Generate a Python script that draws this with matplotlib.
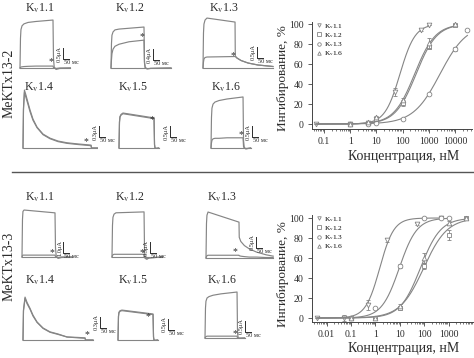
import numpy as np
import matplotlib.pyplot as plt
from matplotlib.lines import Line2D
from matplotlib.ticker import LogLocator, FixedLocator, FixedFormatter, NullFormatter

plt.rcParams['font.family'] = 'serif'
plt.rcParams['font.serif'] = ['Liberation Serif', 'DejaVu Serif']
plt.rcParams['mathtext.fontset'] = 'stix'

# ── dose-response data, MeKTx13-2 (conc nM, inhibition %, error) ─────────────
c2_kv11 = [0.05, 1, 5, 10, 50, 500, 1000]
i2_kv11 = [0, 0, 1, 5, 32, 94, 99]
e2_kv11 = [0, 0, 0, 2, 4, 1, 0]
c2_kv12 = [1, 5, 10, 100, 1000, 10000]
i2_kv12 = [0, 1, 4, 21, 77, 99]
e2_kv12 = [0, 0, 0, 3, 2, 1]
c2_kv13 = [1, 5, 10, 100, 1000, 10000, 30000]
i2_kv13 = [0, 0, 1, 5, 30, 75, 94]
e2_kv13 = [0, 0, 0, 1, 1, 2, 1]
c2_kv16 = [1, 5, 10, 100, 1000, 10000]
i2_kv16 = [0, 2, 7, 24, 81, 100]
e2_kv16 = [0, 0, 1, 2, 5, 0]
# Hill fit parameters (Kv1.1, Kv1.2, Kv1.3, Kv1.6)
ic50_2 = [80, 330, 2700, 290]
hill_2 = [1.5, 1.1, 0.85, 1.1]
fit_end_2 = [1000, 10000, 30000, 10000]

# ── dose-response data, MeKTx13-3 ─────────────────────────────────────────────
c3_kv11 = [0.004, 0.05, 0.5, 3, 50, 500]
i3_kv11 = [0, 0, 13, 78, 94, 100]
e3_kv11 = [0, 3, 5, 2, 1, 0]
c3_kv12 = [0.1, 1, 10, 100, 1000, 5000]
i3_kv12 = [0, 0, 10, 52, 83, 100]
e3_kv12 = [0, 0, 2, 3, 5, 2]
c3_kv13 = [0.1, 1, 10, 100, 500, 1000]
i3_kv13 = [0, 10, 52, 100, 100, 100]
e3_kv13 = [0, 1, 2, 0, 0, 0]
c3_kv16 = [0.1, 1, 10, 100, 1000, 5000]
i3_kv16 = [0, 0, 12, 60, 95, 100]
e3_kv16 = [0, 0, 2, 5, 2, 1]
ic50_3 = [1.5, 95, 9.5, 70]
hill_3 = [1.5, 0.9, 1.2, 1.05]
fit_end_3 = [500, 5000, 1000, 5000]

channels = ['K$_\\mathrm{v}$1.1', 'K$_\\mathrm{v}$1.2', 'K$_\\mathrm{v}$1.3', 'K$_\\mathrm{v}$1.6']
markers = ['v', 's', 'o', '^']

# ── current traces: time (ms), control and toxin current as fraction of peak ──
a1_t = [0, 4, 8, 17, 33, 67, 133, 275, 279, 285, 300, 330, 420]
a1_c = [0, .62, .8, .88, .92, .95, .97, 1.0, .2, .02, -.03, -.01, 0]
a1_x = [0, .01, .02, .025, .03, .035, .04, .04, .01, 0, -.01, 0, 0]
a2_t = [0, 4, 8, 17, 33, 67, 150, 275, 279, 285, 300, 330, 500]
a2_c = [0, .6, .8, .88, .93, .95, .97, 1.0, .15, .01, -.02, -.01, 0]
a2_x = [0, .2, .35, .46, .53, .58, .64, .68, .12, .01, -.02, -.01, 0]
a3_t = [0, 4, 8, 17, 33, 267, 269, 283, 317, 375, 458, 583]
a3_c = [0, .7, .88, .96, 1.0, .92, .24, .2, .15, .1, .06, .03]
a3_x = [0, .12, .18, .21, .22, .23, .23, .2, .15, .1, .06, .03]
a4_t = [0, 4, 12, 25, 42, 58, 83, 117, 167, 225, 292, 367, 458, 567, 571, 625]
a4_c = [0, .69, 1.0, .91, .78, .66, .5, .36, .24, .17, .12, .09, .07, .05, 0, 0]
a4_x = [0, .66, .96, .87, .75, .63, .48, .35, .23, .16, .11, .08, .06, .04, 0, 0]
a5_t = [0, 4, 8, 17, 33, 292, 296, 300, 310, 330]
a5_c = [0, .75, .9, .96, 1.0, .86, .1, 0, -.01, 0]
a5_x = [0, .73, .88, .94, .98, .84, .1, 0, -.01, 0]
a6_t = [0, 4, 8, 17, 33, 67, 133, 267, 271, 277, 290, 330]
a6_c = [0, .6, .78, .86, .9, .93, .96, 1.0, .15, .01, -.02, 0]
a6_x = [0, .1, .15, .18, .19, .19, .2, .2, .03, 0, -.01, 0]

b1_t = [0, 4, 8, 17, 275, 279, 285, 300, 330, 420]
b1_c = [0, .8, .97, 1.0, .94, .2, .02, -.03, -.01, 0]
b1_x = [0, .03, .04, .04, .04, .01, 0, -.01, 0, 0]
b2_t = [0, 4, 8, 17, 33, 267, 271, 277, 290, 310, 420]
b2_c = [0, .7, .88, .95, .98, 1.0, .15, -.03, -.05, -.02, 0]
b2_x = [0, .03, .05, .06, .06, .06, .01, -.03, -.04, -.02, 0]
b3_t = [0, 4, 8, 17, 275, 277, 290, 320, 360, 420, 500, 560]
b3_c = [0, .75, .93, 1.0, .78, .45, .36, .27, .2, .13, .07, .04]
b3_x = [0, .03, .05, .06, .06, .05, .04, .03, .02, .02, .01, .01]
b4_t = [0, 4, 17, 33, 58, 83, 117, 167, 225, 292, 367, 458, 517, 521, 583]
b4_c = [0, .7, 1, .88, .74, .58, .42, .28, .19, .14, .07, .06, .05, 0, 0]
b4_x = [0, .68, .97, .85, .72, .56, .41, .27, .18, .13, .07, .05, .04, 0, 0]
b5_t = [0, 4, 8, 17, 33, 292, 296, 300, 310, 330]
b5_c = [0, .8, .93, .98, 1.0, .87, .1, 0, -.01, 0]
b5_x = [0, .78, .91, .96, .98, .85, .1, 0, -.01, 0]
b6_t = [0, 4, 8, 17, 33, 67, 133, 267, 271, 277, 290, 330]
b6_c = [0, .65, .8, .87, .9, .93, .96, 1.0, .1, 0, -.01, 0]
b6_x = [0, .02, .03, .04, .04, .04, .04, .04, 0, 0, 0, 0]

peak_a = [2.18, 1.49, 2.27, 1.58, 1.59, 2.32]   # uA
peak_b = [4.27, 2.05, 2.09, 1.17, 1.36, 2.09]
scale_a = [0.5, 0.4, 0.5, 0.3, 0.5, 0.5]        # scale bar, uA
scale_b = [1.0, 0.5, 0.5, 0.3, 0.5, 0.5]
panel_names = ['K$_\\mathrm{v}$1.1', 'K$_\\mathrm{v}$1.2', 'K$_\\mathrm{v}$1.3',
               'K$_\\mathrm{v}$1.4', 'K$_\\mathrm{v}$1.5', 'K$_\\mathrm{v}$1.6']

GRAY = '#858585'
TXT = '#2b2b2b'
W, H = 474, 358
fig = plt.figure(figsize=(W / 100, H / 100), dpi=100)


def fx(x):
    return x / W


def fy(y):
    return 1 - y / H


MS_PX = 50 / 6.0
BAR_PX = 11


def trace_panel(x0, yb, t, ctrl, tox, peak, scale, star, bar):
    ua = scale / BAR_PX
    ax = fig.add_axes([fx(x0 - 3), fy(yb + 8), 78 / W, 70 / H])
    ax.set_xlim(-3 * MS_PX, 75 * MS_PX)
    ax.set_ylim(-8 * ua, 62 * ua)
    ax.axis('off')
    t = np.array(t)
    ax.plot([0, t[-1]], [0, 0], color=GRAY, lw=0.8)
    ax.plot(t, np.array(ctrl) * peak, color=GRAY, lw=0.85)
    ax.plot(t, np.array(tox) * peak, color=GRAY, lw=0.85)

    def d(px, py):
        return (px - x0) * MS_PX, (yb - py) * ua
    sx, sy = d(*star)
    ax.text(sx, sy, '*', ha='center', va='center', fontsize=7, color=TXT)
    bx, by = d(*bar)
    ax.plot([bx, bx, bx + 50], [by + scale, by, by], color=TXT, lw=0.7, clip_on=False)
    ax.text(bx - 0.8 * MS_PX, by + scale / 2, f'{scale:.1f}μA', rotation=90,
            ha='right', va='center', fontsize=4.6, color=TXT)
    ax.text(bx + 0.8 * MS_PX, by - 0.8 * ua, '50 мс', ha='left', va='top',
            fontsize=4.6, color=TXT)


# ── layout of trace panels (pixel positions) ─────────────────────────────────
traces_a = [(a1_t, a1_c, a1_x), (a2_t, a2_c, a2_x), (a3_t, a3_c, a3_x),
            (a4_t, a4_c, a4_x), (a5_t, a5_c, a5_x), (a6_t, a6_c, a6_x)]
traces_b = [(b1_t, b1_c, b1_x), (b2_t, b2_c, b2_x), (b3_t, b3_c, b3_x),
            (b4_t, b4_c, b4_x), (b5_t, b5_c, b5_x), (b6_t, b6_c, b6_x)]
org_a = [(20, 68), (111, 68), (203, 68), (23, 148), (119, 148), (211, 148)]
org_b = [(22, 257), (112, 257), (206, 258), (23, 340), (118, 340), (205, 338)]
star_a = [(51, 62), (142, 37), (233, 56), (86, 142), (152, 120), (241, 135)]
star_b = [(52, 253), (142, 253), (235, 252), (87, 335), (148, 317), (235, 334)]
bar_a = [(63, 59), (153, 60), (257, 58), (99, 137), (170, 137), (252, 137)]
bar_b = [(63, 253), (150, 253), (256, 248), (100, 328), (168, 330), (245, 332)]
title_a = [(40, 8), (130, 8), (224, 8), (39, 87), (133, 87), (226, 87)]
title_b = [(40, 197), (130, 197), (222, 197), (40, 280), (133, 280), (222, 280)]

for k in range(6):
    t, c, x = traces_a[k]
    trace_panel(*org_a[k], t, c, x, peak_a[k], scale_a[k], star_a[k], bar_a[k])
    fig.text(fx(title_a[k][0]), fy(title_a[k][1]), panel_names[k], ha='center',
             va='center', fontsize=8.6, color=TXT)
    t, c, x = traces_b[k]
    trace_panel(*org_b[k], t, c, x, peak_b[k], scale_b[k], star_b[k], bar_b[k])
    fig.text(fx(title_b[k][0]), fy(title_b[k][1]), panel_names[k], ha='center',
             va='center', fontsize=8.6, color=TXT)

fig.text(fx(9), fy(83), 'MeKTx13-2', rotation=90, ha='center', va='center',
         fontsize=10, color=TXT)
fig.text(fx(9), fy(266), 'MeKTx13-3', rotation=90, ha='center', va='center',
         fontsize=10, color=TXT)
fig.add_artist(Line2D([fx(12), fx(474)], [fy(172), fy(172)], color='#555555', lw=1.0))


# ── dose-response plots ───────────────────────────────────────────────────────
def hill(c, ic50, n):
    return 100.0 / (1.0 + (ic50 / c) ** n)


def dose_axes(left, top, right, bottom, xlim, ylim, ticklabels, series,
              ic50, hill_n, fit_start, fit_end, xlab_y, ylab_y):
    ax = fig.add_axes([fx(left), fy(bottom), (right - left) / W, (bottom - top) / H])
    ax.set_xscale('log')
    for k, (cc, ii, ee) in enumerate(series):
        xs = np.logspace(np.log10(fit_start), np.log10(fit_end[k]), 200)
        ax.plot(xs, hill(xs, ic50[k], hill_n[k]), color=GRAY, lw=0.8)
        ax.errorbar(cc, ii, yerr=ee, fmt='none', ecolor=GRAY, elinewidth=0.6,
                    capsize=1.3, capthick=0.6)
        ms = 3.0 if markers[k] == 's' else 3.4
        ax.plot(cc, ii, linestyle='none', marker=markers[k], ms=ms, mfc='white',
                mec=GRAY, mew=0.6, label=channels[k])
    ax.set_xlim(*xlim)
    ax.set_ylim(*ylim)
    ax.spines['top'].set_visible(False)
    ax.spines['right'].set_visible(False)
    for s in ['left', 'bottom']:
        ax.spines[s].set_color('#444444')
        ax.spines[s].set_linewidth(0.7)
    ax.set_yticks([0, 20, 40, 60, 80, 100])
    ax.xaxis.set_major_locator(FixedLocator([float(v) for v in ticklabels]))
    ax.xaxis.set_major_formatter(FixedFormatter(ticklabels))
    ax.xaxis.set_minor_locator(LogLocator(base=10, subs=np.arange(2, 10), numticks=30))
    ax.xaxis.set_minor_formatter(NullFormatter())
    ax.tick_params(which='major', direction='out', length=3, width=0.6,
                   labelsize=7, pad=3, colors='#444444', labelcolor=TXT)
    ax.tick_params(which='minor', direction='out', length=1.6, width=0.5,
                   colors='#444444')
    ax.set_xlabel('Концентрация, нМ', fontsize=10, color=TXT)
    ax.set_ylabel('Ингибирование, %', fontsize=9.5, color=TXT)
    ax.xaxis.set_label_coords(0.57, xlab_y)
    ax.yaxis.set_label_coords(-0.145, ylab_y)
    ax.legend(loc='upper left', bbox_to_anchor=(0.03, 1.0), frameon=False,
              fontsize=5.3, handlelength=0.7, handletextpad=0.3, labelspacing=0.02,
              borderpad=0, borderaxespad=0, markerscale=0.75)
    return ax


series_2 = [(c2_kv11, i2_kv11, e2_kv11), (c2_kv12, i2_kv12, e2_kv12),
            (c2_kv13, i2_kv13, e2_kv13), (c2_kv16, i2_kv16, e2_kv16)]
series_3 = [(c3_kv11, i3_kv11, e3_kv11), (c3_kv12, i3_kv12, e3_kv12),
            (c3_kv13, i3_kv13, e3_kv13), (c3_kv16, i3_kv16, e3_kv16)]

dose_axes(312, 22, 472, 129, (0.035, 45000), (-5, 102),
          ['0.1', '1', '10', '100', '1000', '10000'], series_2,
          ic50_2, hill_2, 0.05, fit_end_2, -0.2, 0.48)
dose_axes(312, 215, 473, 322, (0.0025, 10000), (-4, 103),
          ['0.01', '0.1', '1', '10', '100', '1000'], series_3,
          ic50_3, hill_3, 0.004, fit_end_3, -0.19, 0.45)

fig.savefig('out.png', dpi=100)
